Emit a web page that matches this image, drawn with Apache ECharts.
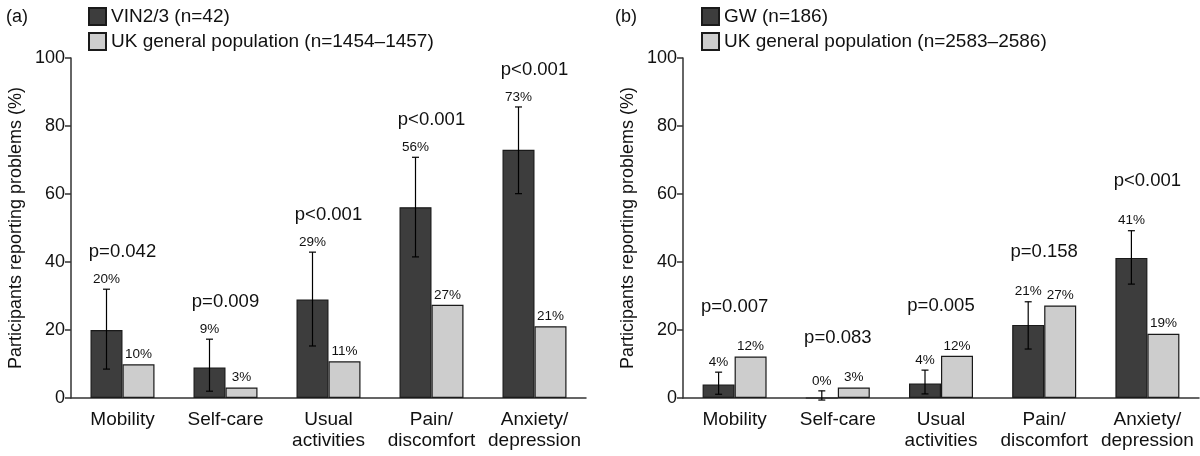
<!DOCTYPE html>
<html>
<head>
<meta charset="utf-8">
<script src="https://cdn.jsdelivr.net/npm/echarts@6/dist/echarts.min.js"></script>
<style>
  html, body { margin: 0; padding: 0; background: #fff; }
  #main { width: 1200px; height: 456px; }
</style>
</head>
<body>
<div id="main"></div>
<script>
// categories (EQ-5D dimensions)
const categories = ['Mobility', 'Self-care', 'Usual\nactivities', 'Pain/\ndiscomfort', 'Anxiety/\ndepression']
const yTicks = [0, 20, 40, 60, 80, 100]

// panel (a)
const vinName = 'VIN2/3 (n=42)'
const ukAName = 'UK general population (n=1454\u20131457)'
const vinVals = [20, 9, 29, 56.1, 73]
const vinLow = [8.5, 2, 15.3, 41.5, 60.1]
const vinHigh = [32, 17.3, 42.9, 70.8, 85.6]
const vinLabels = ['20%', '9%', '29%', '56%', '73%']
const ukAVals = [9.9, 3.1, 10.8, 27.4, 21.1]
const ukALabels = ['10%', '3%', '11%', '27%', '21%']
const pA = ['p=0.042', 'p=0.009', 'p<0.001', 'p<0.001', 'p<0.001']

// panel (b)
const gwName = 'GW (n=186)'
const ukBName = 'UK general population (n=2583\u20132586)'
const gwVals = [4, 0, 4.3, 21.5, 41.2]
const gwLow = [1.1, -0.6, 1.2, 14.4, 33.5]
const gwHigh = [7.6, 2.1, 8.2, 28.3, 49.2]
const gwLabels = ['4%', '0%', '4%', '21%', '41%']
const ukBVals = [12.2, 3.1, 12.4, 27.2, 18.9]
const ukBLabels = ['12%', '3%', '12%', '27%', '19%']
const pB = ['p=0.007', 'p=0.083', 'p=0.005', 'p=0.158', 'p<0.001']

const FONT = '"Liberation Sans", Arial, sans-serif'
const DARK = '#3d3d3d'
const LIGHT = '#cdcdcd'
const EDGE = '#1a1a1a'
const AXIS = '#333'
const BAR_W = 32

let myChart = echarts.init(document.getElementById('main'))

function xAxisFor(idx) {
    return {
        type: 'category', gridIndex: idx, data: categories,
        axisLine: { lineStyle: { color: AXIS, width: 1.5 } },
        axisTick: { length: 6, lineStyle: { color: AXIS, width: 1.5 } },
        axisLabel: { interval: 0, color: '#111', fontSize: 19, fontFamily: FONT, margin: 11, lineHeight: 21 }
    }
}

function yAxisFor(idx) {
    return {
        type: 'value', gridIndex: idx, min: yTicks[0], max: yTicks[yTicks.length - 1], interval: 20,
        name: 'Participants reporting problems (%)', nameLocation: 'middle', nameGap: 46,
        nameTextStyle: { color: '#111', fontSize: 18, fontFamily: FONT },
        axisLine: { show: true, lineStyle: { color: AXIS, width: 1.5 } },
        axisTick: { show: true, length: 6, lineStyle: { color: AXIS, width: 1.5 } },
        axisLabel: { color: '#111', fontSize: 18, fontFamily: FONT, margin: 6 },
        splitLine: { show: false }
    }
}

function barSeries(name, idx, vals, labels, color) {
    return {
        name: name, type: 'bar', xAxisIndex: idx, yAxisIndex: idx,
        data: vals, barWidth: BAR_W, barGap: '0%',
        itemStyle: { color: color, borderColor: EDGE, borderWidth: 1.2 },
        label: labels ? {
            show: true, position: 'top', distance: 3,
            color: '#111', fontSize: 13.5, fontFamily: FONT,
            formatter: p => labels[p.dataIndex]
        } : { show: false }
    }
}

// error bars + dark % label + p-value, all positioned off the data
function errorSeries(idx, low, high, light, darkLabels, pTexts, pGap) {
    return {
        type: 'custom', xAxisIndex: idx, yAxisIndex: idx, z: 10, clip: false,
        data: low.map((v, i) => [i, v, high[i], light[i]]),
        renderItem: function (params, api) {
            const i = api.value(0)
            const lo = api.coord([i, api.value(1)])
            const hi = api.coord([i, api.value(2)])
            const lt = api.coord([i, api.value(3)])
            const x = hi[0] - BAR_W / 2
            const cap = 3.5
            const style = { stroke: '#000', lineWidth: 1.2 }
            const topY = Math.min(hi[1], lt[1])
            return {
                type: 'group',
                children: [
                    { type: 'line', shape: { x1: x, y1: lo[1], x2: x, y2: hi[1] }, style: style },
                    { type: 'line', shape: { x1: x - cap, y1: hi[1], x2: x + cap, y2: hi[1] }, style: style },
                    { type: 'line', shape: { x1: x - cap, y1: lo[1], x2: x + cap, y2: lo[1] }, style: style },
                    {
                        type: 'text', x: x, y: hi[1] - 3,
                        style: { text: darkLabels[i], fill: '#111', fontSize: 13.5, fontFamily: FONT, align: 'center', verticalAlign: 'bottom' }
                    },
                    {
                        type: 'text', x: hi[0], y: topY - pGap,
                        style: { text: pTexts[i], fill: '#111', fontSize: 18.5, fontFamily: FONT, align: 'center', verticalAlign: 'middle' }
                    }
                ]
            }
        }
    }
}

function legendFor(left, names) {
    return {
        data: names, left: left, top: 2, orient: 'vertical',
        icon: 'rect', itemWidth: 17, itemHeight: 17, itemGap: 6,
        textStyle: { color: '#111', fontSize: 19, fontFamily: FONT },
        selectedMode: false
    }
}

myChart.setOption({
    backgroundColor: '#fff',
    animation: false,
    title: [
        { text: '(a)', left: 1, top: 3, textStyle: { fontSize: 18, fontWeight: 'normal', color: '#111', fontFamily: FONT } },
        { text: '(b)', left: 610, top: 3, textStyle: { fontSize: 18, fontWeight: 'normal', color: '#111', fontFamily: FONT } }
    ],
    legend: [legendFor(83, [vinName, ukAName]), legendFor(696, [gwName, ukBName])],
    grid: [
        { left: 71, right: 614, top: 58, bottom: 58 },
        { left: 683, right: 1, top: 58, bottom: 58 }
    ],
    xAxis: [xAxisFor(0), xAxisFor(1)],
    yAxis: [yAxisFor(0), yAxisFor(1)],
    series: [
        barSeries(vinName, 0, vinVals, null, DARK),
        barSeries(ukAName, 0, ukAVals, ukALabels, LIGHT),
        errorSeries(0, vinLow, vinHigh, ukAVals, vinLabels, pA, 37),
        barSeries(gwName, 1, gwVals, null, DARK),
        barSeries(ukBName, 1, ukBVals, ukBLabels, LIGHT),
        errorSeries(1, gwLow, gwHigh, ukBVals, gwLabels, pB, 50)
    ]
})
</script>
</body>
</html>
